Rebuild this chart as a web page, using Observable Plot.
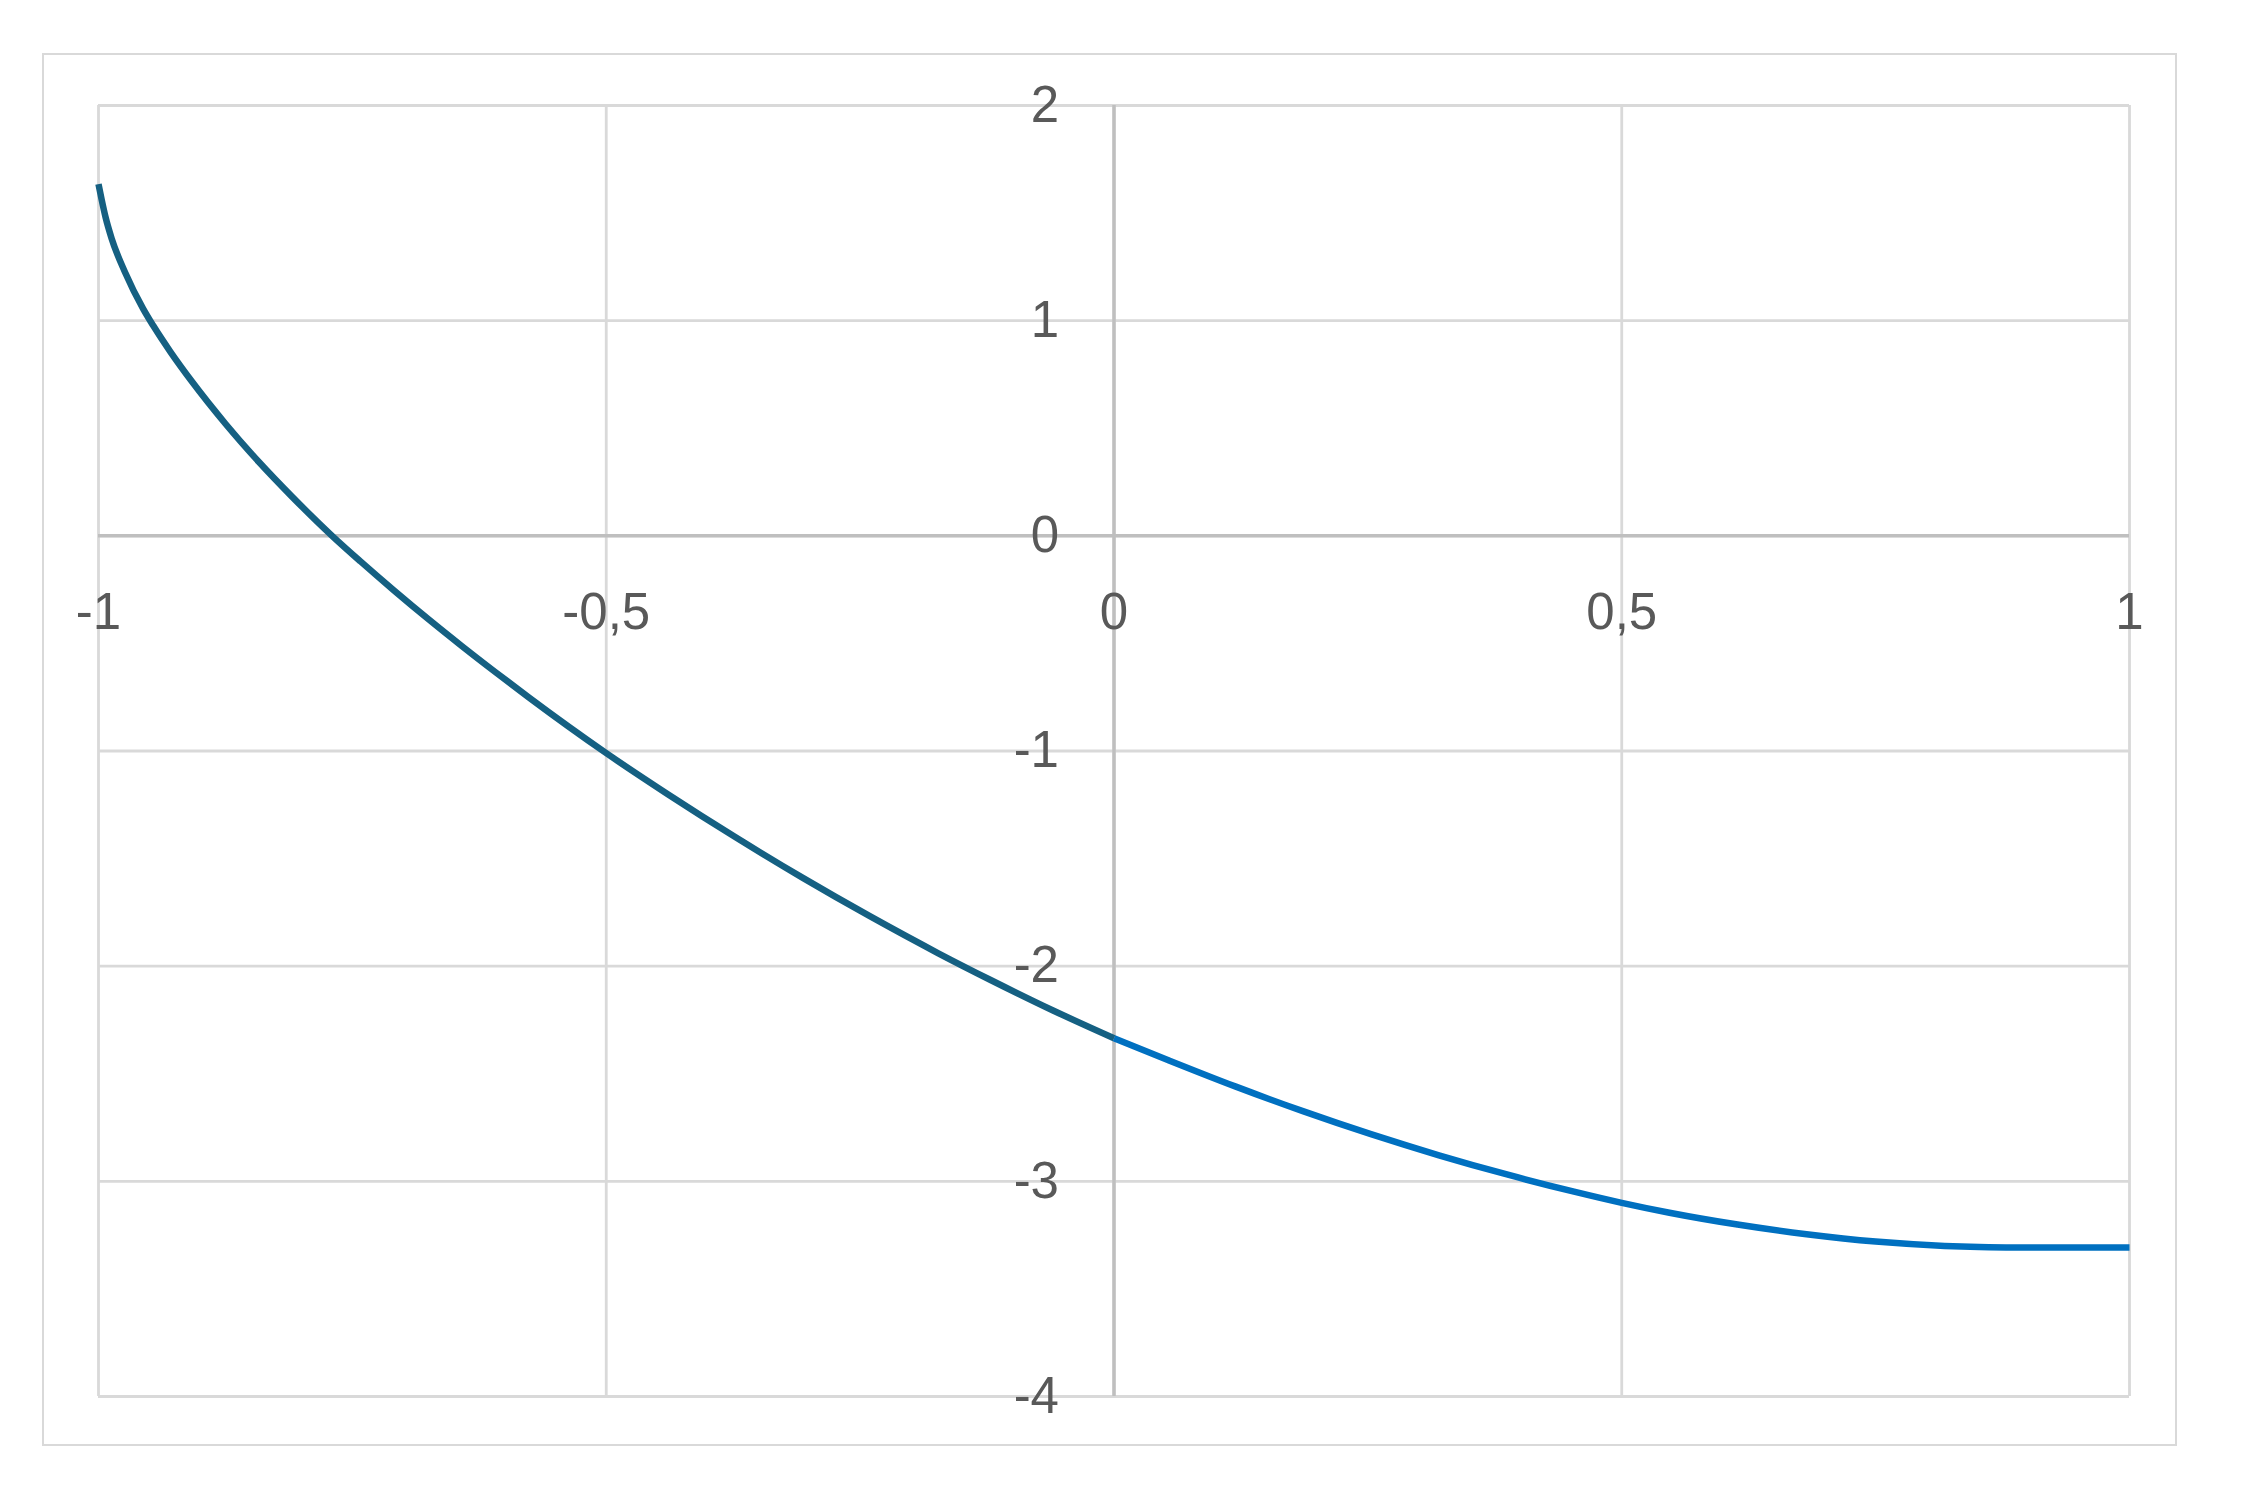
<!DOCTYPE html>
<html>
<head>
<meta charset="utf-8">
<script src="https://cdn.jsdelivr.net/npm/d3@7"></script>
<script src="https://cdn.jsdelivr.net/npm/@observablehq/plot@0.6"></script>
<style>
  html, body { margin: 0; padding: 0; background: #ffffff; }
  #wrap { position: relative; width: 2243px; height: 1501px; }
  #border { position: absolute; left: 41.6px; top: 52.6px; width: 2135.8px; height: 1393.8px;
            border: 2.8px solid #d9d9d9; box-sizing: border-box; }
  #chart { position: absolute; left: 0; top: 0; }
</style>
</head>
<body>
<div id="wrap"><div id="border"></div><div id="chart"></div></div>
<script>
// Tick values
const xTicks = [-1, -0.5, 0, 0.5, 1];
const yTicks = [2, 1, 0, -1, -2, -3, -4];

// Series 1 (dark, x from -1 to 0)
const darkX = [-1, -0.997, -0.993, -0.987, -0.974, -0.956, -0.946, -0.929, -0.908, -0.875, -0.842, -0.809, -0.770,
               -0.742, -0.709, -0.675, -0.642, -0.609, -0.576, -0.5, -0.439, -0.373, -0.306, -0.240,
               -0.173, -0.122, -0.060, 0];
const darkY = [1.635, 1.565, 1.48, 1.381, 1.226, 1.055, 0.976, 0.854, 0.717, 0.521, 0.343, 0.18, 0.0,
               -0.119, -0.254, -0.388, -0.513, -0.634, -0.752, -1.01, -1.202, -1.40, -1.591, -1.769,
               -1.94, -2.063, -2.206, -2.335];

// Series 2 (blue, x from 0 to 1)
const blueX = [0, 0.053, 0.12, 0.186, 0.253, 0.32, 0.386, 0.453, 0.5, 0.547, 0.614, 0.682, 0.75, 0.818, 0.852, 0.886, 1];
const blueY = [-2.335, -2.436, -2.56, -2.674, -2.781, -2.879, -2.967, -3.048, -3.10, -3.146, -3.201, -3.246, -3.28, -3.30, -3.305, -3.307, -3.307];

const dark = darkX.map((x, i) => ({x, y: darkY[i]}));
const blue = blueX.map((x, i) => ({x, y: blueY[i]}));
const fmt = d => String(d).replace(".", ",");

const chart = Plot.plot({
  width: 2243,
  height: 1501,
  marginLeft: 98,
  marginRight: 114,
  marginTop: 105,
  marginBottom: 105,
  x: {domain: [-1, 1], axis: null},
  y: {domain: [-4, 2], axis: null},
  style: {background: "transparent", fontFamily: "'Liberation Sans', Arial, sans-serif", overflow: "visible"},
  marks: [
    Plot.gridX(xTicks, {stroke: "#d9d9d9", strokeOpacity: 1, strokeWidth: 2.8}),
    Plot.gridY(yTicks, {stroke: "#d9d9d9", strokeOpacity: 1, strokeWidth: 2.8}),
    Plot.ruleX([0], {stroke: "#bfbfbf", strokeWidth: 3.5}),
    Plot.ruleY([0], {stroke: "#bfbfbf", strokeWidth: 3.5}),
    Plot.line(blue, {x: "x", y: "y", stroke: "#0070C0", strokeWidth: 6.5, curve: "monotone-x", strokeLinecap: "butt"}),
    Plot.line(dark, {x: "x", y: "y", stroke: "#156082", strokeWidth: 6.5, curve: "monotone-x", strokeLinecap: "butt"}),
    Plot.text(yTicks, {x: d => 0, y: d => d, text: fmt, textAnchor: "end", dx: -55, fontSize: 51, fill: "#595959"}),
    Plot.text(xTicks, {x: d => d, y: d => 0, text: fmt, dy: 77, fontSize: 51, fill: "#595959"})
  ]
});
document.getElementById("chart").appendChild(chart);
</script>
</body>
</html>
